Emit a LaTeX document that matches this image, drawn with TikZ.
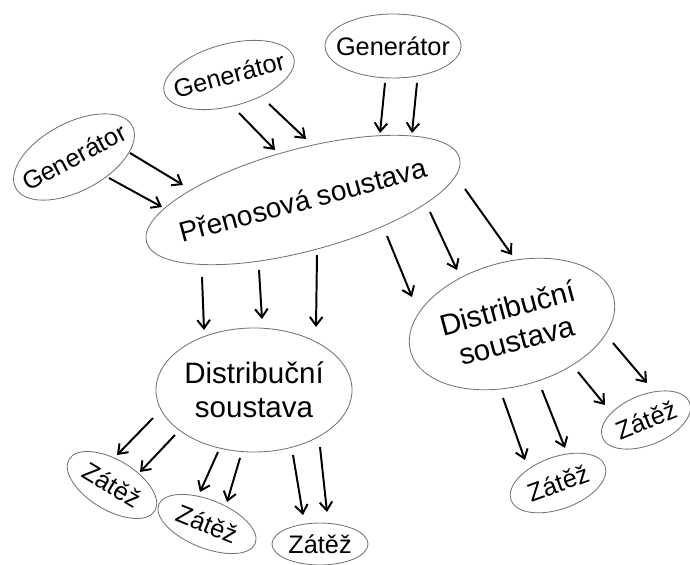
\documentclass[tikz,border=0pt]{standalone}
\usepackage{fontspec}
\setmainfont{Liberation Sans}
\usetikzlibrary{shapes.geometric,arrows.meta,calc}

\tikzset{
  blob/.style={ellipse, draw=black!55, line width=0.6pt, inner sep=0pt, outer sep=0pt},
  gen/.style={blob, font=\fontsize{18}{21}\selectfont},
  load/.style={blob, font=\fontsize{18}{21}\selectfont},
  dist/.style={blob, align=center, font=\fontsize{21}{24}\selectfont},
  arr/.style={-{Straight Barb[length=6pt,width=9pt]}, line width=1.4pt},
}

\begin{document}
\begin{tikzpicture}[x=0.025cm,y=0.025cm]
    \useasboundingbox (0,0) rectangle (690,-565);

    % generatory
    \node[gen, rotate=28, minimum width=3.3cm, minimum height=1.7cm] (gen1) at (74,-157) {\makebox[0pt]{Generátor}};
    \node[gen, rotate=15, minimum width=3.35cm, minimum height=1.55cm] (gen2) at (229,-75) {\makebox[0pt]{Generátor}};
    \node[gen, minimum width=3.4cm, minimum height=1.6cm] (gen3) at (393,-46) {\makebox[0pt]{Generátor}};

    % prenosova soustava
    \node[blob, rotate=15, minimum width=8.1cm, minimum height=2.55cm, font=\fontsize{20}{24}\selectfont] (pren) at (303,-200) {\makebox[0pt]{Přenosová soustava}};

    % distribucni soustavy
    \node[dist, minimum width=4.9cm, minimum height=3.1cm] (distL) at (254,-390) {\makebox[0pt]{Distribuční}\\\makebox[0pt]{soustava}};
    \node[dist, rotate=15, minimum width=5.25cm, minimum height=3.1cm] (distR) at (512,-324) {\makebox[0pt]{Distribuční}\\\makebox[0pt]{soustava}};

    % zateze
    \node[load, rotate=-31, minimum width=2.5cm, minimum height=1.25cm] (z1) at (112,-485) {\makebox[0pt]{Zátěž}};
    \node[load, rotate=-22, minimum width=2.6cm, minimum height=1.2cm] (z2) at (207,-524) {\makebox[0pt]{Zátěž}};
    \node[load, minimum width=2.4cm, minimum height=1.05cm] (z3) at (320,-544) {\makebox[0pt]{Zátěž}};
    \node[load, rotate=20, minimum width=2.5cm, minimum height=1.3cm] (z4) at (558,-483) {\makebox[0pt]{Zátěž}};
    \node[load, rotate=22, minimum width=2.35cm, minimum height=1.25cm] (z5) at (646,-420) {\makebox[0pt]{Zátěž}};

    % generatory -> prenos
    \draw[arr] ($(gen1)+(56,4)$) -- ($(pren)+(-120,15)$);
    \draw[arr] ($(gen1)+(35,-21)$) -- ($(pren)+(-141,-7)$);
    \draw[arr] ($(gen2)+(10,-38)$) -- ($(pren)+(-28,50)$);
    \draw[arr] ($(gen2)+(40,-29)$) -- ($(pren)+(3,61)$);
    \draw[arr] ($(gen3)+(-8,-37)$) -- ($(pren)+(77,67)$);
    \draw[arr] ($(gen3)+(24,-37)$) -- ($(pren)+(109,67)$);

    % prenos -> distribuce
    \draw[arr] ($(pren)+(-101,-77)$) -- ($(distL)+(-50,60)$);
    \draw[arr] ($(pren)+(-44,-70)$) -- ($(distL)+(8,71)$);
    \draw[arr] ($(pren)+(14,-55)$) -- ($(distL)+(62,63)$);
    \draw[arr] ($(pren)+(84,-36)$) -- ($(distR)+(-100,27)$);
    \draw[arr] ($(pren)+(127,-12)$) -- ($(distR)+(-55,54)$);
    \draw[arr] ($(pren)+(162,11)$) -- ($(distR)+(0,69)$);

    % distribuce -> zateze
    \draw[arr] ($(distL)+(-101,-28)$) -- ($(z1)+(5,30)$);
    \draw[arr] ($(distL)+(-79,-45)$) -- ($(z1)+(28,13)$);
    \draw[arr] ($(distL)+(-36,-62)$) -- ($(z2)+(-7,32)$);
    \draw[arr] ($(distL)+(-14,-68)$) -- ($(z2)+(20,22)$);
    \draw[arr] ($(distL)+(39,-65)$) -- ($(z3)+(-17,29)$);
    \draw[arr] ($(distL)+(66,-57)$) -- ($(z3)+(7,32)$);
    \draw[arr] ($(distR)+(-9,-74)$) -- ($(z4)+(-33,23)$);
    \draw[arr] ($(distR)+(30,-66)$) -- ($(z4)+(7,35)$);
    \draw[arr] ($(distR)+(66,-48)$) -- ($(z5)+(-41,15)$);
    \draw[arr] ($(distR)+(101,-19)$) -- ($(z5)+(1,37)$);
\end{tikzpicture}
\end{document}
